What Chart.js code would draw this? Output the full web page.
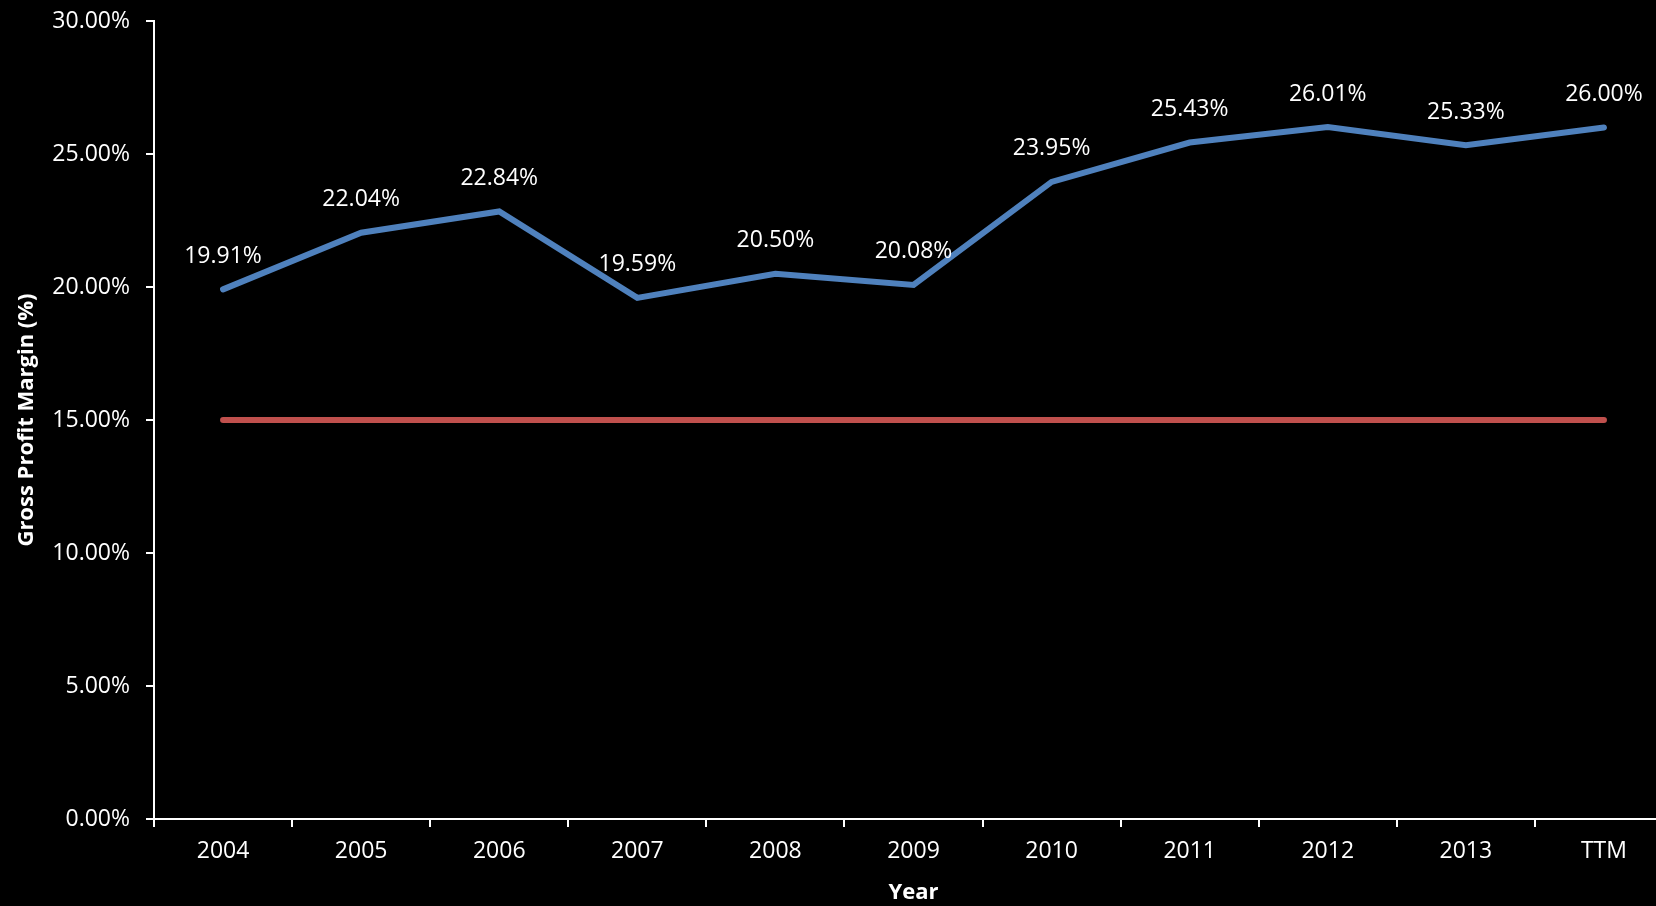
<!DOCTYPE html>
<html>
<head>
<meta charset="utf-8">
<title>Gross Profit Margin</title>
<script src="https://cdn.jsdelivr.net/npm/chart.js@4/dist/chart.umd.min.js"></script>
<style>
    html, body { margin: 0; padding: 0; background: #000; overflow: hidden; }
    #wrap { width: 1680px; height: 906px; }
</style>
</head>
<body>
<div id="wrap"><canvas id="marginChart"></canvas></div>
<script>
const years = ["2004", "2005", "2006", "2007", "2008", "2009", "2010", "2011", "2012", "2013", "TTM"];
const grossMargin = [19.91, 22.04, 22.84, 19.59, 20.50, 20.08, 23.95, 25.43, 26.01, 25.33, 26.00];
const benchmark = [15, 15, 15, 15, 15, 15, 15, 15, 15, 15, 15];

const font = "'Open Sans', 'DejaVu Sans', sans-serif";

// value labels above the margin line
const valueLabels = {
    id: 'valueLabels',
    afterDatasetsDraw(chart) {
        const ctx = chart.ctx;
        const meta = chart.getDatasetMeta(0);
        ctx.save();
        ctx.font = "23px " + font;
        ctx.fillStyle = '#fff';
        ctx.textAlign = 'center';
        ctx.textBaseline = 'middle';
        meta.data.forEach((pt, i) => {
            ctx.fillText(grossMargin[i].toFixed(2) + '%', pt.x, pt.y - 33);
        });
        ctx.restore();
    }
};

document.addEventListener('DOMContentLoaded', function () {
    const ctx = document.getElementById('marginChart').getContext('2d');
    new Chart(ctx, {
        type: 'line',
        data: {
            labels: years,
            datasets: [{
                label: 'Gross Profit Margin',
                data: grossMargin,
                borderColor: '#4F81BD',
                borderWidth: 6,
                borderCapStyle: 'round',
                borderJoinStyle: 'miter',
                pointRadius: 0,
                tension: 0
            }, {
                label: 'Benchmark',
                data: benchmark,
                borderColor: '#C0504D',
                borderWidth: 6,
                borderCapStyle: 'round',
                pointRadius: 0
            }]
        },
        options: {
            responsive: true,
            maintainAspectRatio: false,
            animation: false,
            layout: { padding: { top: 21, right: 7, left: 0, bottom: 0 } },
            plugins: {
                legend: { display: false },
                tooltip: { enabled: false }
            },
            scales: {
                x: {
                    offset: true,
                    grid: { offset: true, drawOnChartArea: false, color: '#fff', tickLength: 8, lineWidth: 2 },
                    border: { color: '#fff', width: 2 },
                    ticks: { color: '#fff', font: { family: font, size: 23 }, padding: 11, maxRotation: 0 },
                    title: { display: true, text: 'Year', color: '#fff', font: { family: font, size: 22, weight: 'bold' }, padding: { top: 7, bottom: 0 } },
                    afterFit(scale) { scale.height = 87; scale.paddingLeft = 0; scale.paddingRight = 0; }
                },
                y: {
                    min: 0,
                    max: 30,
                    grid: { drawOnChartArea: false, color: '#fff', tickLength: 8, lineWidth: 2 },
                    border: { color: '#fff', width: 2 },
                    ticks: {
                        stepSize: 5,
                        color: '#fff',
                        font: { family: font, size: 23 },
                        padding: 16,
                        callback: v => v.toFixed(2) + '%'
                    },
                    title: { display: true, text: 'Gross Profit Margin (%)', color: '#fff', font: { family: font, size: 22, weight: 'bold' }, padding: { top: 14, bottom: 4 } },
                    afterFit(scale) { scale.width = 154; scale.paddingTop = 0; scale.paddingBottom = 0; }
                }
            }
        },
        plugins: [valueLabels]
    });
});
</script>
</body>
</html>
